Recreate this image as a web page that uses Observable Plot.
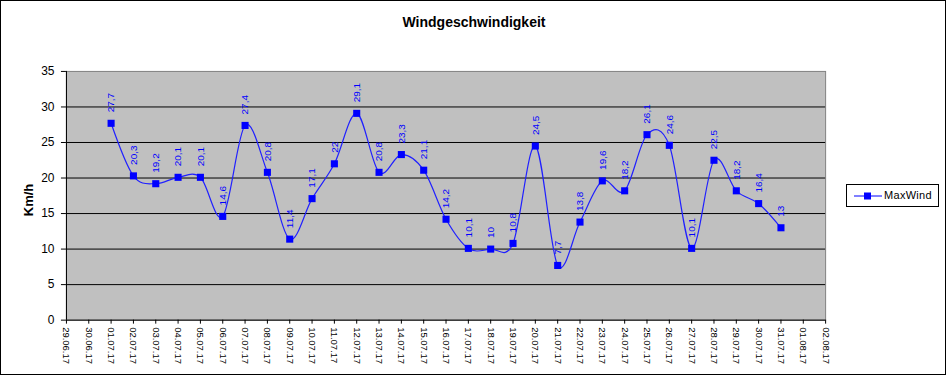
<!DOCTYPE html>
<html>
<head>
<meta charset="utf-8">
<script src="https://cdn.jsdelivr.net/npm/d3@7"></script>
<script src="https://cdn.jsdelivr.net/npm/@observablehq/plot@0.6"></script>
<style>
  html, body { margin: 0; padding: 0; background: #fff; }
  #wrap { position: relative; width: 946px; height: 375px; box-sizing: border-box; border: 1px solid #000; overflow: hidden; font-family: "Liberation Sans", Arial, sans-serif; }
  #chart { position: absolute; left: -1px; top: -1px; }
  #title { position: absolute; left: 0; width: 946px; top: 13px; text-align: center; font-weight: bold; font-size: 14px; }
  #ylab { position: absolute; left: 27px; top: 199px; transform: translate(-50%, -50%) rotate(-90deg); font-weight: bold; font-size: 13px; white-space: nowrap; }
  #legend { position: absolute; left: 845px; top: 183px; width: 93px; height: 23px; box-sizing: border-box; border: 1px solid #000; background: #fff; }
  #legend svg { position: absolute; left: 6px; top: 4px; }
  #legend span { position: absolute; left: 37px; top: 4px; font-size: 11px; letter-spacing: 0.3px; }
</style>
</head>
<body>
<div id="wrap">
  <div id="chart"></div>
  <div id="title">Windgeschwindigkeit</div>
  <div id="ylab">Km/h</div>
  <div id="legend">
    <svg width="30" height="14"><line x1="1" y1="7" x2="29" y2="7" stroke="#0000ff" stroke-width="1"/><rect x="11" y="3.5" width="7" height="7" fill="#0000ff"/></svg>
    <span>MaxWind</span>
  </div>
</div>
<script>
// All day tick labels along the x axis
const dayLabels = ["29.06.17","30.06.17","01.07.17","02.07.17","03.07.17","04.07.17","05.07.17","06.07.17","07.07.17","08.07.17","09.07.17","10.07.17","11.07.17","12.07.17","13.07.17","14.07.17","15.07.17","16.07.17","17.07.17","18.07.17","19.07.17","20.07.17","21.07.17","22.07.17","23.07.17","24.07.17","25.07.17","26.07.17","27.07.17","28.07.17","29.07.17","30.07.17","31.07.17","01.08.17","02.08.17"];
// Dates with measurements
const dates = ["01.07.17","02.07.17","03.07.17","04.07.17","05.07.17","06.07.17","07.07.17","08.07.17","09.07.17","10.07.17","11.07.17","12.07.17","13.07.17","14.07.17","15.07.17","16.07.17","17.07.17","18.07.17","19.07.17","20.07.17","21.07.17","22.07.17","23.07.17","24.07.17","25.07.17","26.07.17","27.07.17","28.07.17","29.07.17","30.07.17","31.07.17"];
// MaxWind series (km/h)
const maxWind = [27.7,20.3,19.2,20.1,20.1,14.6,27.4,20.8,11.4,17.1,22,29.1,20.8,23.3,21.1,14.2,10.1,10,10.8,24.5,7.7,13.8,19.6,18.2,26.1,24.6,10.1,22.5,18.2,16.4,13];
const yTicks = [0,5,10,15,20,25,30,35];
const gridValues = [5,10,15,20,25,30];

const data = dates.map((d, i) => ({date: d, value: maxWind[i], label: String(maxWind[i]).replace(".", ",")}));

const chart = Plot.plot({
  width: 946,
  height: 375,
  marginLeft: 66,
  marginTop: 71,
  marginBottom: 55,
  marginRight: 120,
  style: {fontFamily: "Liberation Sans, Arial, sans-serif", background: "transparent", overflow: "visible"},
  x: {type: "point", domain: dayLabels, padding: 0, round: false},
  y: {domain: [0, 35]},
  marks: [
    Plot.frame({fill: "#c0c0c0", stroke: "#808080"}),
    Plot.ruleY(gridValues, {stroke: "#000", strokeWidth: 1}),
    Plot.axisY({ticks: yTicks, tickSize: 5, tickPadding: 7, label: null, fontSize: 12, stroke: "#000"}),
    Plot.axisX({ticks: dayLabels, tickSize: 4, tickPadding: 3, tickRotate: 90, label: null, fontSize: 9.5}),
    Plot.ruleX([dayLabels[0]], {stroke: "#000"}),
    Plot.ruleY([0], {stroke: "#000"}),
    Plot.line(data, {x: "date", y: "value", curve: "cardinal", tension: 0, stroke: "#2020ff", strokeWidth: 1.2}),
    Plot.dot(data, {x: "date", y: "value", symbol: "square", r: 4, fill: "#0000ff", stroke: "none"}),
    Plot.text(data, {x: "date", y: "value", text: "label", rotate: -90, textAnchor: "start", dy: -11, fill: "#0000ff", fontSize: 10})
  ]
});
document.getElementById("chart").appendChild(chart);
</script>
</body>
</html>
